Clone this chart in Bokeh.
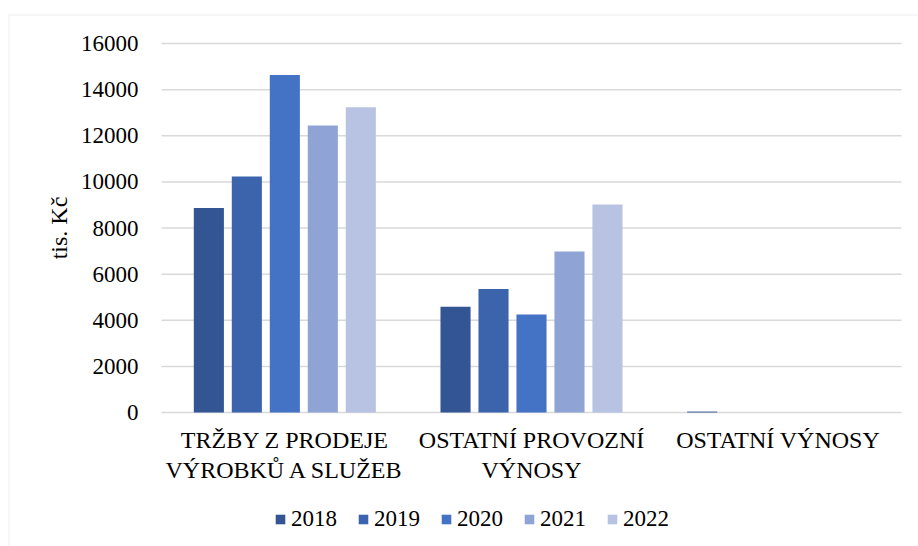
import math
from bokeh.plotting import figure
from bokeh.models import ColumnDataSource, Range1d, Legend, LegendItem, BoxAnnotation
from bokeh.core.properties import value
from bokeh.transform import dodge
from bokeh.embed import file_html
from bokeh.resources import INLINE

categories = ["TRŽBY Z PRODEJE\nVÝROBKŮ A SLUŽEB", "OSTATNÍ PROVOZNÍ\nVÝNOSY", "OSTATNÍ VÝNOSY"]
years = ["2018", "2019", "2020", "2021", "2022"]
v2018 = [8870, 4580, 40]
v2019 = [10230, 5350, 0]
v2020 = [14630, 4250, 0]
v2021 = [12440, 6980, 0]
v2022 = [13240, 9020, 0]
y_ticks = [0, 2000, 4000, 6000, 8000, 10000, 12000, 14000, 16000]
y_label = "tis. Kč"
colors = ["#335593", "#3c64ad", "#4472c4", "#8fa4d4", "#b8c3e3"]

# ---- layout (pixels of the 918x546 canvas) ----
W, H = 918, 546
PLOT_L, PLOT_R = 161, 901      # plot area left / right
Y_TOP_PX, Y0_PX = 43, 412      # pixel rows of y max and of 0
Y_MAX = y_ticks[-1]
UNIT = (PLOT_R - PLOT_L) / len(categories)       # px per category
PXV = Y_MAX / (Y0_PX - Y_TOP_PX)                  # data per px


def xd(px):
    return (px - PLOT_L) / UNIT


def yd(py):
    return (Y0_PX - py) * PXV


FONT_NAME = "'Liberation Serif', 'Times New Roman', serif"
FONT = value(FONT_NAME)

series = [v2018, v2019, v2020, v2021, v2022]
cat_x = [i + 0.5 for i in range(len(categories))]
data = {"x": cat_x, "label": categories}
for y, s in zip(years, series):
    data["y" + y] = s
source = ColumnDataSource(data)

p = figure(width=W, height=H, x_range=Range1d(xd(0), xd(W)), y_range=Range1d(yd(H), yd(0)),
           output_backend="svg", toolbar_location=None,
           x_axis_location=None, y_axis_location=None,
           min_border=0, min_border_left=0, min_border_right=0,
           min_border_top=0, min_border_bottom=0)
p.outline_line_color = None
p.background_fill_color = "white"
p.border_fill_color = "white"
p.xgrid.visible = False
p.ygrid.visible = False

# chart frame border
p.add_layout(BoxAnnotation(left=xd(8.5), right=xd(W + 20), top=yd(14.5), bottom=yd(H + 20),
                           fill_alpha=0, line_color="#d9d9d9", line_width=1.5))

# horizontal gridlines
grid_src = ColumnDataSource({"y": y_ticks, "x0": [0] * len(y_ticks),
                             "x1": [len(categories)] * len(y_ticks),
                             "t": [str(t) for t in y_ticks]})
p.segment(x0="x0", x1="x1", y0="y", y1="y", source=grid_src,
          line_color="#d9d9d9", line_width=1.5)

# bars
offsets = [-0.308, -0.154, 0.0, 0.154, 0.308]
legend_items = []
for y, c, off in zip(years, colors, offsets):
    r = p.vbar(x=dodge("x", off), top="y" + y, width=0.122, source=source,
               fill_color=c, line_color=None)
    legend_items.append(LegendItem(label=y, renderers=[r]))

# y tick labels
p.text(x="x0", y="y", text="t", source=grid_src, x_offset=-23,
       text_align="right", text_baseline="middle",
       text_font=FONT, text_font_size="23px", text_color="black")

# y axis title
p.text(x=[0], y=[Y_MAX / 2], text=[y_label], angle=math.pi / 2, x_offset=-103,
       text_align="center", text_baseline="middle",
       text_font=FONT, text_font_size="24px", text_color="black")

# category labels
p.text(x="x", y=0, text="label", source=source, y_offset=14,
       text_align="center", text_baseline="top", text_line_height=1.17,
       text_font=FONT, text_font_size="24px", text_color="black")

legend = Legend(items=legend_items, orientation="horizontal", location=(274, 14),
                label_text_font=FONT_NAME, label_text_font_size="23px", label_text_color="black",
                glyph_width=12, glyph_height=12, label_standoff=5, spacing=20,
                padding=0, margin=0, border_line_color=None, background_fill_alpha=0)
p.add_layout(legend, "center")

open("out.html", "w").write(file_html(p, INLINE))
